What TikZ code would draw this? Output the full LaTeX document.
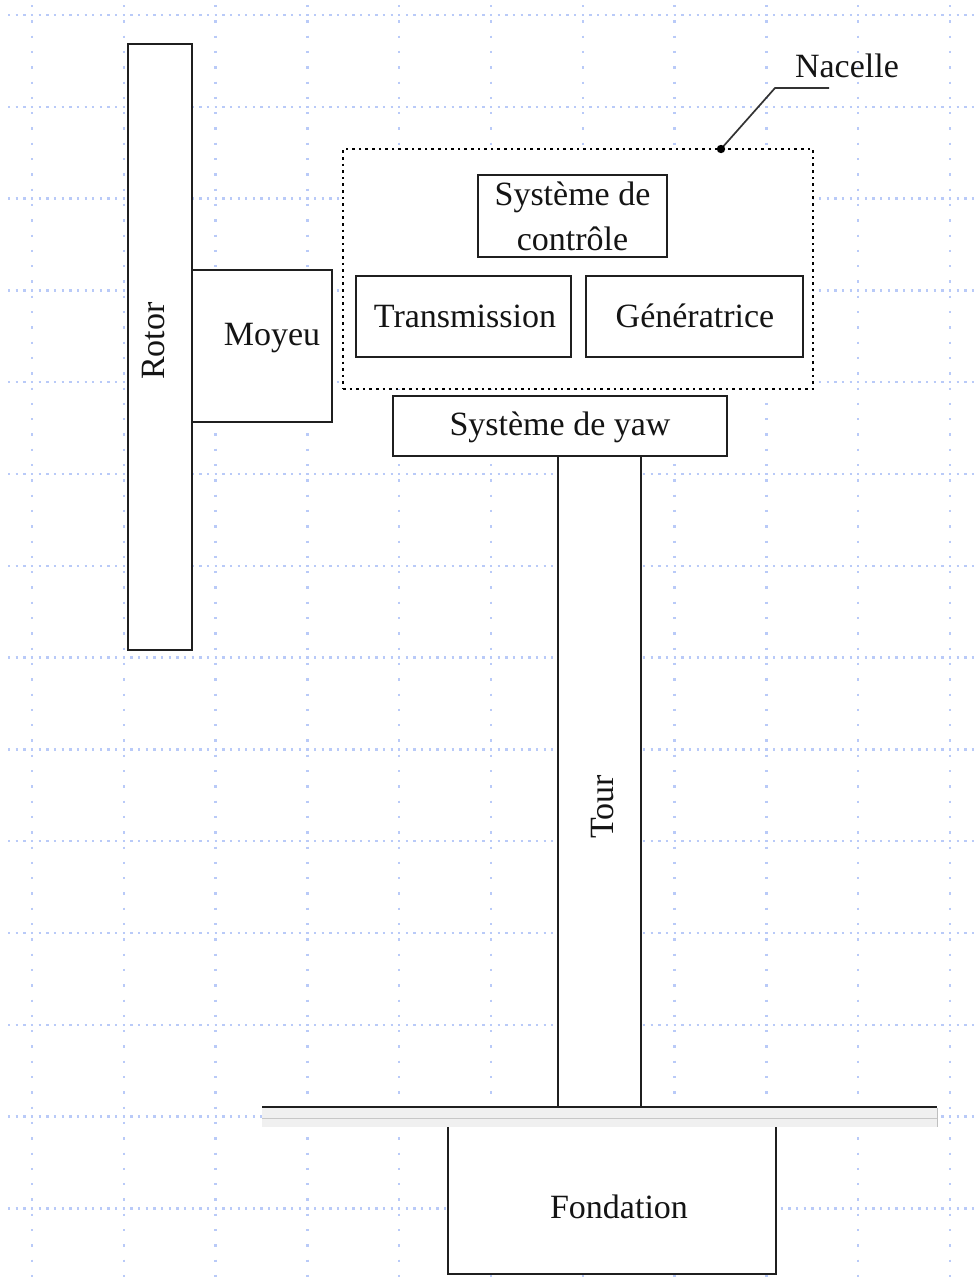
\documentclass[tikz,border=0pt]{standalone}
\usepackage{fontspec}
\setmainfont{Liberation Serif}
\begin{document}
\begin{tikzpicture}[x=1pt,y=-1pt,
  every node/.style={font=\fontsize{34}{45}\selectfont, text=black!92},
  part/.style={draw=black!88, line width=1.9pt, fill=white, rectangle, inner sep=0pt},
  gridh/.style={draw=gridblue, line width=2.3pt, dash pattern=on 2.3pt off 5.35pt},
  gridv/.style={draw=gridblue, line width=2.3pt, dash pattern=on 2.3pt off 13pt},
  dottedframe/.style={draw=black, line width=2.6pt, dash pattern=on 2.6pt off 4pt, fill=white, rectangle, inner sep=0pt},
  callout/.style={draw=black!80, line width=1.7pt}
]
\definecolor{gridblue}{RGB}{185,202,248}
\useasboundingbox (0,0) rectangle (975,1286);
\fill[white] (0,0) rectangle (975,1286);

% dotted background grid
\foreach \k in {0,...,13} {
  \draw[gridh] (8,{15+91.8*\k}) -- (975,{15+91.8*\k});
}
\foreach \k in {0,...,10} {
  \draw[gridv] ({32+91.8*\k},5) -- ({32+91.8*\k},1286);
}

% rotor and hub
\node[part, minimum width=64pt, minimum height=606pt] (rotor) at (160,347) {};
\node[rotate=90] (rotorlbl) at (154,341) {Rotor};
\node[part, minimum width=140pt, minimum height=152pt] (moyeu) at (262,346) {};
\node (moyeulbl) at (272,338) {Moyeu};

% nacelle with its inner components
\node[dottedframe, minimum width=470pt, minimum height=240pt] (nacelle) at (578,269) {};
\node[part, minimum width=189pt, minimum height=82pt] (controle) at (572.5,216) {};
\node[align=center] (controlelbl) at (572.5,216) {Système de\\contrôle};
\node[part, minimum width=215pt, minimum height=81pt] (transmission) at (463.5,316.5) {};
\node (transmissionlbl) at (465,316) {Transmission};
\node[part, minimum width=217pt, minimum height=81pt] (generatrice) at (694.5,316.5) {};
\node (generatricelbl) at (695,316) {Génératrice};

% callout naming the nacelle
\coordinate (nacpt) at (721,149);
\coordinate (bend) at (775,88);
\coordinate (calloutend) at (829,88);
\node (naclbl) at (847,66) {Nacelle};
\draw[callout] (nacpt) -- (bend) -- (calloutend);
\fill[black] (nacpt) circle (4.2pt);

% yaw system and tower
\node[part, minimum width=334pt, minimum height=60pt] (yaw) at (560,426) {};
\node (yawlbl) at (560,427) {Système de yaw};
\node[part, minimum width=83pt, minimum height=652pt] (tour) at (599.5,782) {};
\node[rotate=90] (tourlbl) at (603,807) {Tour};

% ground plate
\coordinate (gl) at (262,1107);
\coordinate (gr) at (937,1107);
\fill[black!6] (262,1108) rectangle (937,1127);
\draw[black!22, line width=1.2pt] (262,1118.5) -- (937,1118.5);
\draw[black!25, line width=1pt] (937,1108) -- (937,1127);
\draw[black!88, line width=2pt] (gl) -- (gr);

% foundation, open at the top
\fill[white] (448,1127) rectangle (776,1274);
\draw[black!88, line width=1.9pt] (448,1127) -- (448,1274) -- (776,1274) -- (776,1127);
\node (fondation) at (619,1207) {Fondation};
\end{tikzpicture}
\end{document}
